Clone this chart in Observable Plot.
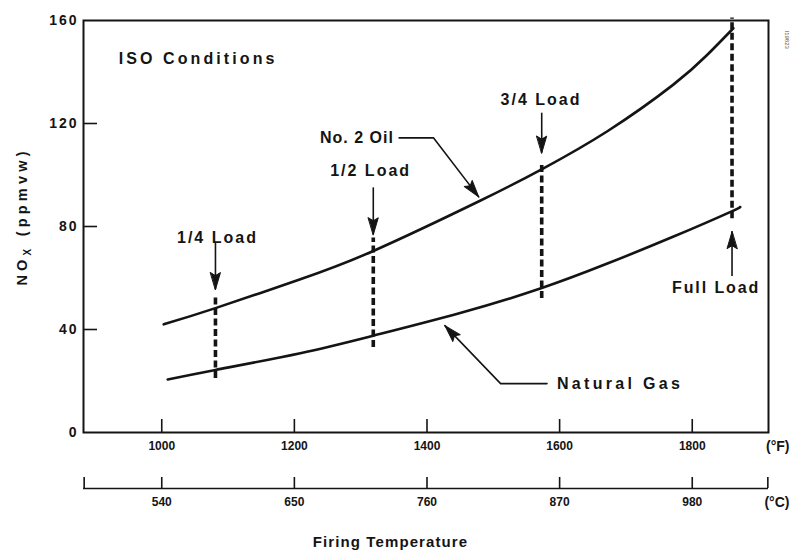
<!DOCTYPE html>
<html><head><meta charset="utf-8">
<script src="https://cdn.jsdelivr.net/npm/d3@7"></script>
<script src="https://cdn.jsdelivr.net/npm/@observablehq/plot@0.6"></script>
<style>
body{margin:0;background:#fff;}
#chart svg{display:block}
</style></head><body><div id="chart"></div>
<script>
// Data
const oilTemp = [1003, 1081, 1209, 1319, 1480, 1575, 1672, 1771, 1822, 1862];
const oilNox  = [42, 48.3, 59.5, 70.5, 90, 102.5, 117, 135, 146.5, 157];
const gasTemp = [1009, 1081, 1209, 1319, 1450, 1572, 1672, 1771, 1857, 1872];
const gasNox  = [20.6, 24.3, 30.8, 37.6, 46.4, 56, 65.6, 76, 85.6, 87.6];

const loadNames  = ["1/4 Load", "1/2 Load", "3/4 Load", "Full Load"];
const loadTemp   = [1081, 1319, 1573, 1860];
const loadTop    = [53, 75.5, 105, 161];
const loadBottom = [21, 33, 52, 83];
const loadLabelT = [1084, 1315, 1572, 1836];
const loadLabelY = [75.7, 101.7, 129, 56.3];
const stemFrom   = [73.4, 95, 124, 60.6];
const stemTip    = [55.5, 76.8, 108.5, 78];

const fTicks = [1000, 1200, 1400, 1600, 1800];
const cTickLabels = ["540", "650", "760", "870", "980"];
const yTicks = [0, 40, 80, 120, 160];
const xDomain = [882, 1915];

// tables built from the arrays
const oil = oilTemp.map((t, i) => ({t, v: oilNox[i]}));
const gas = gasTemp.map((t, i) => ({t, v: gasNox[i]}));
const loads = loadNames.map((name, i) => ({name, t: loadTemp[i], top: loadTop[i], bottom: loadBottom[i],
  lt: loadLabelT[i], ly: loadLabelY[i], s1: stemFrom[i], s2: stemTip[i], rot: stemTip[i] > stemFrom[i] ? 0 : 180}));

const oilLeader = [{t: 1358, v: 114.4}, {t: 1410, v: 114.4}, {t: 1478, v: 91.5}];
const gasLeader = [{t: 1581, v: 19}, {t: 1511, v: 19}, {t: 1427, v: 41.5}];
const leaderHeads = [{t: 1478, v: 91.5, rot: 142}, {t: 1427, v: 41.5, rot: -43}];

const notesStart = [
  {text: "ISO Conditions", t: 935, v: 145},
  {text: "Natural Gas", t: 1596, v: 19}
];
const notesEnd = [
  {text: "No. 2 Oil", t: 1350, v: 114.6}
];

const head = {
  draw(context, l) {
    context.moveTo(0, -l);
    context.lineTo(-5, 0);
    context.lineTo(0, -3);
    context.lineTo(5, 0);
    context.closePath();
  }
};

const FONT = "'Liberation Sans', Arial, sans-serif";
const INK = "#141414";

const plot = Plot.plot({
  width: 811,
  height: 559,
  marginLeft: 83,
  marginRight: 43,
  marginTop: 20,
  marginBottom: 127,
  style: {fontFamily: FONT, fontSize: "13px", color: INK, background: "#fff", overflow: "visible"},
  x: {domain: xDomain, label: null},
  y: {domain: [0, 160], label: null},
  marks: [
    // Y axis
    Plot.axisY(yTicks.slice(1, -1), {tickSize: -14, tickFormat: () => "", strokeWidth: 1.6}),
    Plot.axisY(yTicks, {tickSize: 0, tickPadding: 5, fontWeight: "bold", fontSize: 14, tickFormat: d => String(d)}),
    // F axis
    Plot.axisX(fTicks, {tickSize: -13, tickFormat: () => "", strokeWidth: 1.6}),
    Plot.axisX(fTicks, {tickSize: 0, tickPadding: 9, fontWeight: "bold", fontSize: 12, tickFormat: d => String(d)}),
    // C axis (offset below)
    Plot.ruleY([0], {dy: 56, strokeWidth: 1.6, stroke: INK}),
    Plot.axisX([xDomain[0] + 1, ...fTicks, xDomain[1] - 1], {tickSize: -11, tickFormat: () => "", dy: 56, strokeWidth: 1.6}),
    Plot.axisX(fTicks, {tickSize: 0, tickPadding: 9, dy: 56, fontWeight: "bold", fontSize: 12,
      tickFormat: d => cTickLabels[fTicks.indexOf(d)]}),
    Plot.text(["(°F)"], {frameAnchor: "bottom-right", dx: 21, dy: 18, fontSize: 14, fontWeight: "bold", fill: INK}),
    Plot.text(["(°C)"], {frameAnchor: "bottom-right", dx: 21, dy: 74, fontSize: 14, fontWeight: "bold", fill: INK}),
    Plot.text(["Firing Temperature"], {x: [1345], frameAnchor: "bottom", dy: 114, fontSize: 15, fontWeight: "bold", fill: INK}),
    Plot.text(["NOX (ppmvw)"], {y: [83.9], frameAnchor: "left", dx: -61, rotate: -90, textAnchor: "middle",
      fontSize: 14.5, fontWeight: "bold", fill: INK}),
    Plot.text(["I19823"], {frameAnchor: "top-right", dx: 21, dy: 10, rotate: 90, fontSize: 6, fill: "#555", textAnchor: "start"}),
    // frame
    Plot.frame({stroke: INK, strokeWidth: 2}),
    // load dashed lines
    Plot.ruleX(loads, {x: "t", y1: "bottom", y2: "top", stroke: INK, strokeWidth: 3.6, strokeDasharray: "7,3.5"}),
    // curves
    Plot.line(oil, {x: "t", y: "v", curve: "natural", stroke: INK, strokeWidth: 2.6}),
    Plot.line(gas, {x: "t", y: "v", curve: "natural", stroke: INK, strokeWidth: 2.6}),
    // load arrows
    Plot.ruleX(loads, {x: "t", y1: "s1", y2: "s2", stroke: INK, strokeWidth: 1.6}),
    Plot.vector(loads, {x: "t", y: "s2", rotate: "rot", length: 17, anchor: "end", shape: head, fill: INK, stroke: INK, strokeWidth: 1}),
    Plot.text(loads, {x: "lt", y: "ly", text: "name", fontSize: 16, fontWeight: "bold", fill: INK}),
    // leaders
    Plot.line(oilLeader, {x: "t", y: "v", stroke: INK, strokeWidth: 1.6}),
    Plot.line(gasLeader, {x: "t", y: "v", stroke: INK, strokeWidth: 1.6}),
    Plot.vector(leaderHeads, {x: "t", y: "v", rotate: "rot", length: 17, anchor: "end", shape: head, fill: INK, stroke: INK, strokeWidth: 1}),
    Plot.text(notesStart, {x: "t", y: "v", text: "text", textAnchor: "start", fontSize: 16, fontWeight: "bold", fill: INK}),
    Plot.text(notesEnd, {x: "t", y: "v", text: "text", textAnchor: "end", fontSize: 16, fontWeight: "bold", fill: INK})
  ]
});

document.getElementById("chart").appendChild(plot);

// subscript X in the y label, letter spacing on labels
const spacing = {"ISO Conditions": 3.1, "Natural Gas": 3.3, "Firing Temperature": 1.1, "1/4 Load": 2,
  "1/2 Load": 2, "3/4 Load": 2, "Full Load": 1.9, "No. 2 Oil": 1.0, "160": 2, "120": 2, "80": 2, "40": 2, "0": 2};
d3.select(plot).selectAll("text").each(function() {
  const s = this.textContent;
  if (s === "NOX (ppmvw)") {
    this.innerHTML = 'NO<tspan font-size="10" dy="4">X</tspan><tspan dy="-4"> (ppmvw)</tspan>';
    this.setAttribute("letter-spacing", 4.2);
  }
  if (spacing[s] != null) this.setAttribute("letter-spacing", spacing[s]);
});
</script>
</body></html>
